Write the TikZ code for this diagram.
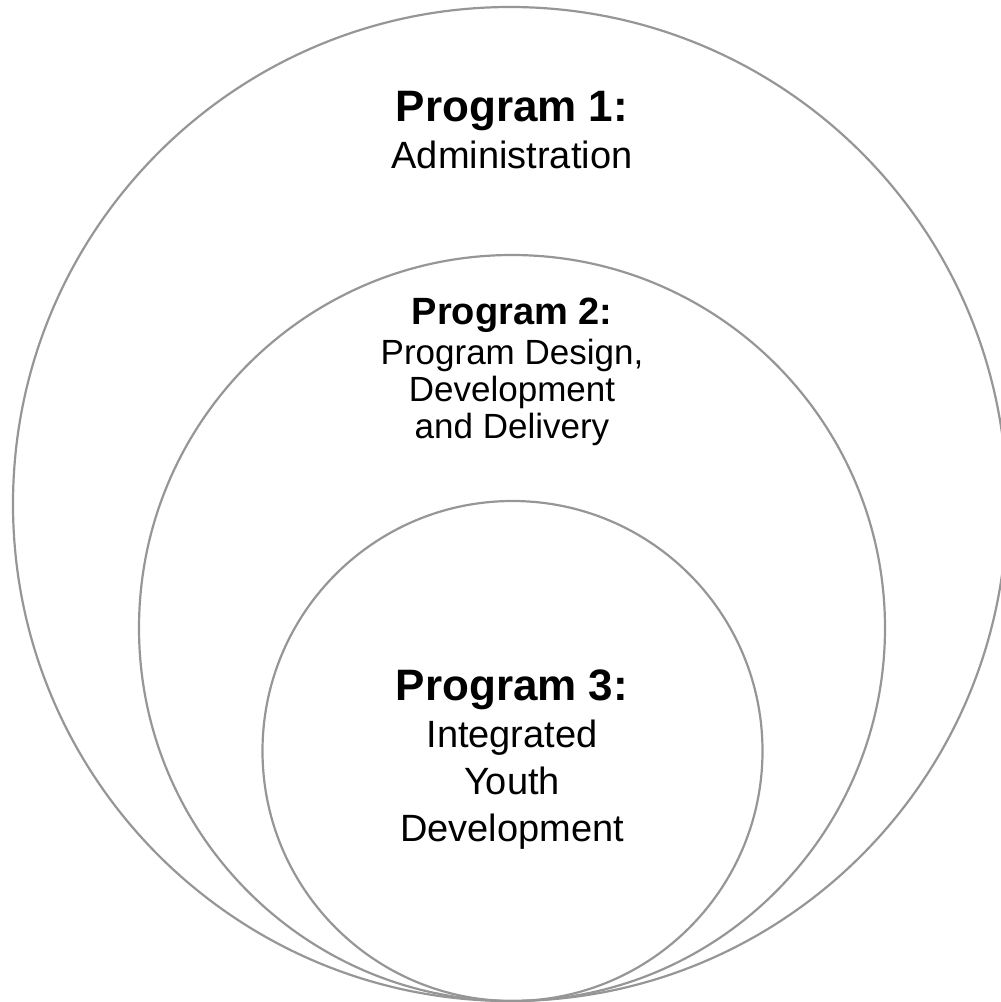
\documentclass[tikz,border=0pt]{standalone}
\usepackage{fontspec}
\setmainfont{Liberation Sans}
\definecolor{ringgray}{RGB}{150,150,150}
\begin{document}
\begin{tikzpicture}[x=1pt,y=-1pt,
  ring/.style={draw=ringgray,line width=2.2pt},
  head/.style={anchor=base,inner sep=0pt,font=\fontsize{44}{50}\selectfont\bfseries},
  body/.style={anchor=base,inner sep=0pt,font=\fontsize{38}{44}\selectfont},
  smallhead/.style={anchor=base,inner sep=0pt,font=\fontsize{38}{44}\selectfont\bfseries},
  smallbody/.style={anchor=base,inner sep=0pt,font=\fontsize{35}{40}\selectfont}]
\useasboundingbox (0,0) rectangle (1001,1002);
% nested rings, all touching at the bottom
\draw[ring] (510,504) circle[radius=497];
\draw[ring] (512,628) circle[radius=373];
\draw[ring] (512.5,751) circle[radius=250];
% outer ring
\node[head] (p1) at (512,121) {Program 1:};
\node[body] (p1a) at (512,168) {Administration};
% middle ring
\node[smallhead] (p2) at (512,324) {Program 2:};
\node[smallbody] (p2a) at (512,364) {Program Design,};
\node[smallbody] (p2b) at (512,401) {Development};
\node[smallbody] (p2c) at (512,438) {and Delivery};
% inner ring
\node[head] (p3) at (512,700) {Program 3:};
\node[body] (p3a) at (512,747) {Integrated};
\node[body] (p3b) at (512,794) {Youth};
\node[body] (p3c) at (512,841) {Development};
\end{tikzpicture}
\end{document}
